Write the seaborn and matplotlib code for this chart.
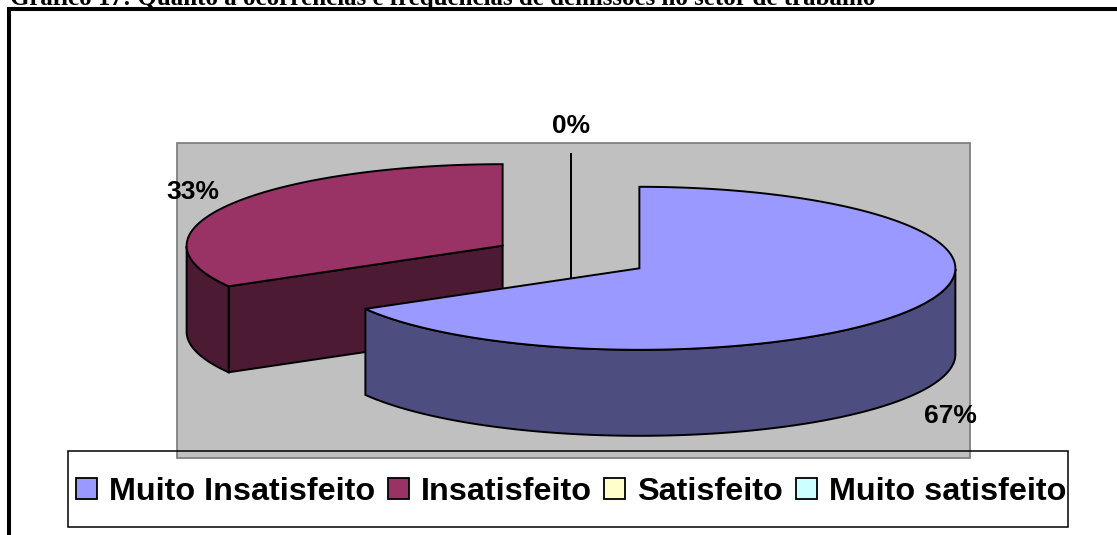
import numpy as np
import matplotlib
matplotlib.use("Agg")
import matplotlib.pyplot as plt
from matplotlib.patches import Polygon, Rectangle, Patch
import seaborn as sns

# ---- data ----
categories = ["Muito Insatisfeito", "Insatisfeito", "Satisfeito", "Muito satisfeito"]
percent_values = [66.7, 33.3, 0.0, 0.0]
title_text = "Gráfico 17: Quanto à ocorrências e freqüências de demissões no setor de trabalho"

# ---- colours ----
top_colors = sns.color_palette(["#9999FF", "#993366", "#FFFFCC", "#CCFFFF"])
side_colors = sns.color_palette(["#4D4D80", "#4D1A33", "#808066", "#668080"])

# ---- layout (pixels of the 1117x535 canvas) ----
W, H = 1117, 535
CX, CY = 571, 257
RX, RY = 316, 81.5
DEPTH = 86
EXPLODE_X, EXPLODE_Y = 0.25, 0.277
PLOT = (177, 143, 970, 458)
LEGEND = (68, 451, 1068, 527)
LEGEND_CENTER = (571, 492)
LABEL_XY = {0: (950.5, 416), 1: (192.5, 192), 2: (571, 126)}
SANS = ["Liberation Sans", "DejaVu Sans"]
EDGE = 1.4

sns.set_theme(style="white")
plt.rcParams["font.family"] = SANS

fig = plt.figure(figsize=(W / 100, H / 100), dpi=100, facecolor="white")
ax = fig.add_axes([0, 0, 1, 1])
ax.set_xlim(0, W)
ax.set_ylim(H, 0)
ax.axis("off")

# outer frame: top and left only are inside the crop
ax.plot([8.5, 8.5, W], [H, 9, 9], color="black", lw=2.9, solid_joinstyle="miter", zorder=1)
ax.text(10, 4.5, title_text, family="Liberation Serif", weight="bold", fontsize=18,
        ha="left", va="baseline", color="black", zorder=1)

# plot area
ax.add_patch(Rectangle((PLOT[0], PLOT[1]), PLOT[2] - PLOT[0], PLOT[3] - PLOT[1],
                       facecolor="#C0C0C0", edgecolor="#808080", lw=1.3, zorder=1))


def rim(ox, oy, theta):
    return ox + RX * np.sin(theta), oy - RY * np.cos(theta)


fractions = np.array(percent_values) / sum(percent_values)
ends = 2 * np.pi * np.cumsum(fractions)
starts = np.concatenate([[0.0], ends[:-1]])

z = 3
for i in range(len(categories) - 1, -1, -1):
    t0, t1 = starts[i], ends[i]
    mid = (t0 + t1) / 2
    ox = CX + EXPLODE_X * RX * np.sin(mid)
    oy = CY - EXPLODE_Y * RY * np.cos(mid)
    th = np.linspace(t0, t1, 240)
    xs, ys = rim(ox, oy, th)

    # radial cut walls facing the viewer
    for t, vis in ((t0, np.sin(t0) < -1e-6), (t1, np.sin(t1) > 1e-6)):
        if vis:
            px, py = rim(ox, oy, t)
            ax.add_patch(Polygon([(ox, oy), (px, py), (px, py + DEPTH), (ox, oy + DEPTH)],
                                 facecolor=side_colors[i], edgecolor="black", lw=EDGE,
                                 joinstyle="miter", zorder=z))
    # outer wall: part of the rim on the near side
    near = np.cos(th) <= 0
    if near.any():
        fx, fy = xs[near], ys[near]
        ax.add_patch(Polygon(np.column_stack([np.r_[fx, fx[::-1]], np.r_[fy, (fy + DEPTH)[::-1]]]),
                             facecolor=side_colors[i], edgecolor="black", lw=EDGE,
                             joinstyle="miter", zorder=z))
    # zero-size slices still show their vertical edge
    if t1 - t0 < 1e-9:
        ax.plot([ox, ox], [oy, oy + DEPTH], color="black", lw=EDGE, zorder=z)
    # top face
    ax.add_patch(Polygon(np.column_stack([np.r_[ox, xs], np.r_[oy, ys]]),
                         facecolor=top_colors[i], edgecolor="black", lw=EDGE,
                         joinstyle="miter", zorder=z + 1))
    z += 2

# percent labels
for i, (x, y) in LABEL_XY.items():
    ax.text(x, y, f"{percent_values[i]:.0f}%", fontsize=19, weight="bold", family=SANS,
            ha="center", va="center", color="black", zorder=20)

# legend
handles = [Patch(facecolor=c, edgecolor="black", lw=1.3) for c in top_colors]
leg = ax.legend(handles, categories, ncol=4, loc="center",
                bbox_to_anchor=LEGEND_CENTER,
                bbox_transform=ax.transData,
                prop={"family": SANS, "weight": "bold", "size": 23.3},
                handlelength=0.64, handleheight=0.64, handletextpad=0.37,
                columnspacing=0.4, borderpad=0.0, borderaxespad=0,
                frameon=False, labelcolor="black")
leg.set_zorder(22)
ax.add_patch(Rectangle((LEGEND[0], LEGEND[1]), LEGEND[2] - LEGEND[0], LEGEND[3] - LEGEND[1],
                       facecolor="none", edgecolor="black", lw=1.1, zorder=21))

fig.savefig("out.png", dpi=100, facecolor="white")
